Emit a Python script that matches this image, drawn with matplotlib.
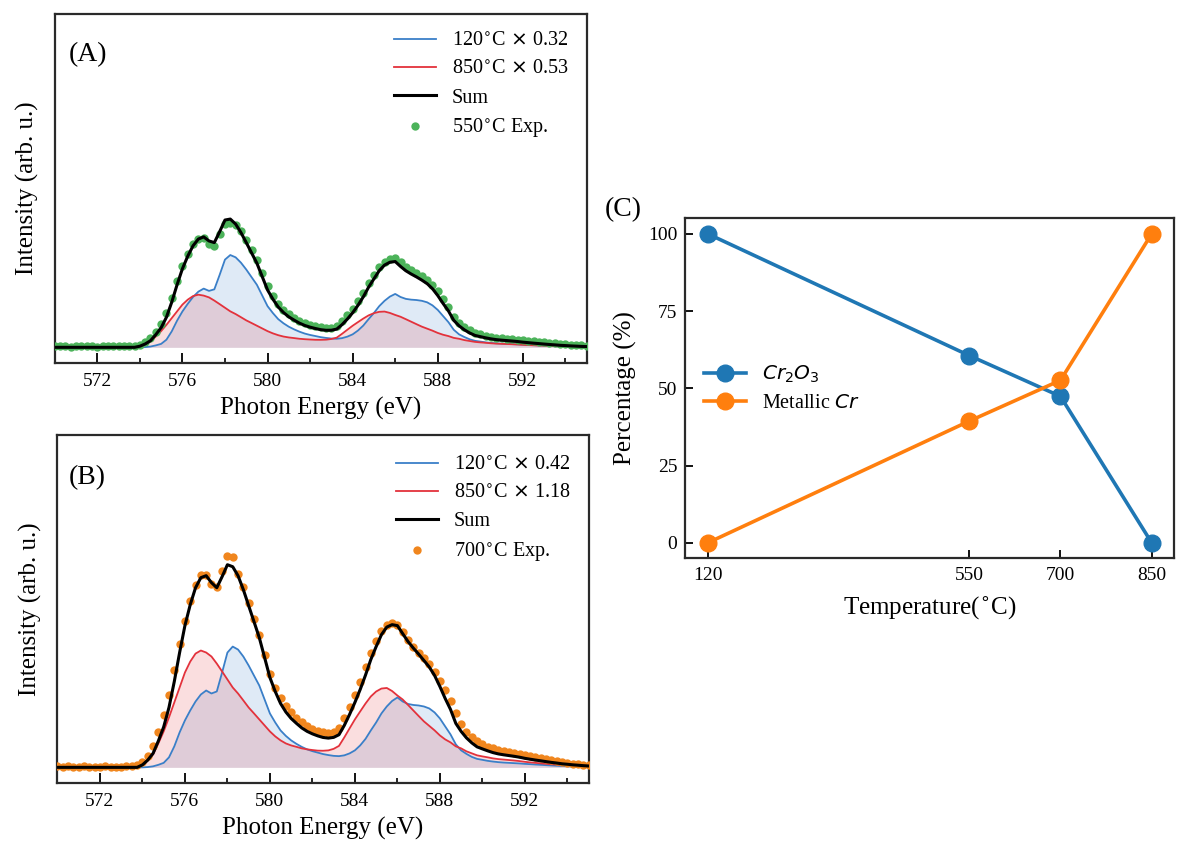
import numpy as np
import matplotlib
matplotlib.use('Agg')
import matplotlib.pyplot as plt
from matplotlib.ticker import MultipleLocator

plt.rcParams['font.family'] = ['Liberation Serif', 'DejaVu Sans']
plt.rcParams['mathtext.fontset'] = 'dejavusans'

# photon energy grid (eV), 0.25 eV step
energy = np.arange(570, 595.001, 0.25)

# reference spectra (arb. u.), one row per eV
ref_120 = [
    0, 0, 0, 0,
    0, 0, 0, 0,
    0, 0, 0, 0,
    0, 0, 0, 0,
    0, 0.7, 2.4, 6.0,
    10.7, 23.8, 50.0, 83.3,
    111.9, 135.7, 157.1, 173.8,
    183.3, 176.2, 181.0, 226.2,
    273.8, 288.1, 281.0, 264.3,
    242.9, 219.0, 195.2, 161.9,
    128.6, 107.1, 88.1, 75.0,
    64.3, 56.0, 48.8, 42.9,
    38.6, 35.2, 31.7, 29.3,
    27.4, 26.7, 28.6, 33.3,
    40.5, 52.4, 67.9, 88.1,
    107.1, 128.6, 145.2, 158.3,
    166.7, 157.1, 151.2, 148.8,
    147.6, 145.2, 140.5, 131.0,
    116.7, 97.6, 78.6, 54.8,
    40.5, 32.1, 25.0, 20.2,
    17.9, 15.5, 13.8, 12.4,
    11.4, 10.7, 10.0, 9.3,
    8.3, 7.6, 6.7, 6.0,
    5.2, 4.5, 3.8, 3.1,
    2.6, 2.1, 1.7, 1.2,
    1.0,
]

ref_850 = [
    0, 0, 0, 0,
    0, 0, 0, 0,
    0, 0, 0, 0,
    0, 0, 0, 0,
    2.1, 5.9, 11.0, 20.3,
    30.5, 42.4, 55.1, 67.8,
    80.5, 89.8, 96.6, 99.2,
    97.5, 94.1, 88.1, 81.4,
    74.6, 67.8, 62.7, 56.8,
    50.8, 45.8, 40.7, 35.6,
    30.5, 26.3, 22.9, 20.3,
    18.6, 17.4, 16.1, 15.3,
    14.7, 14.2, 14.1, 14.4,
    15.7, 18.2, 25.4, 33.1,
    40.7, 47.5, 54.2, 60.2,
    64.4, 66.9, 67.4, 64.8,
    61.0, 57.6, 53.0, 48.3,
    43.6, 39.0, 35.2, 31.4,
    27.1, 23.7, 21.2, 17.8,
    16.1, 13.6, 11.9, 10.2,
    9.3, 8.5, 7.6, 7.0,
    6.6, 6.2, 5.8, 5.3,
    4.7, 4.2, 3.8, 3.4,
    3.0, 2.6, 2.3, 1.9,
    1.7, 1.4, 1.2, 1.0,
    0.8,
]

# measured spectra
exp_550 = [
    1, 1.5, 1, 0.5,
    1, 1.5, 1, 1,
    0.5, 1, 1.5, 1,
    1, 1.5, 1, 1.5,
    2.5, 5, 9, 15.5,
    23, 34, 49, 66,
    81.5, 93.5, 103, 108.5,
    109, 103, 101, 113,
    123, 124.5, 122, 116,
    107, 97.5, 87.5, 74.5,
    61, 51.5, 43.5, 37.5,
    33, 29.5, 26.5, 24,
    22.5, 21, 20, 19.5,
    19.5, 21, 26, 32,
    38.5, 46, 54.5, 64,
    72, 80, 85.5, 88.5,
    89, 85, 80.5, 77,
    74, 71, 67.5, 62.5,
    56, 48, 40, 30.5,
    24.5, 20.5, 17, 14.5,
    13, 11.5, 10.5, 9.5,
    9, 8.5, 8, 7.5,
    7, 6.5, 6, 5.5,
    5, 4.5, 4, 3.5,
    3, 2.5, 2, 2,
    1.5,
]

exp_700 = [
    1, 0.5, 1, 0,
    0.5, 1, 0, 0.5,
    0, 1, 0.5, 0,
    0.5, 1, 1.5, 2,
    5, 11, 21, 35,
    52, 72, 98, 124,
    147, 167, 183, 193,
    193, 184, 181, 197,
    212, 211, 194, 181,
    165, 149, 133, 113,
    94, 80, 69, 61,
    55, 49.5, 45, 41,
    38.5, 36.5, 35, 34,
    35, 39, 49, 60,
    72, 86, 101, 115,
    127, 137, 143, 145,
    143, 136, 128, 121,
    115, 110, 104, 96,
    87, 77, 66, 54,
    43, 35, 30, 26,
    23, 20.5, 19, 17.5,
    16.5, 15.5, 14.5, 13.5,
    12.5, 11.5, 10.5, 9.5,
    8.5, 7.5, 6.5, 5.5,
    4.5, 3.5, 3, 2.5,
    2,
]

weights_550 = [0.32, 0.53]
weights_700 = [0.42, 1.18]

# panel C
temps = [120, 550, 700, 850]
cr2o3 = [100, 60.6, 47.4, 0]
metallic = [0, 39.4, 52.6, 100]

c_blue = '#3a7fc8'
c_red = '#e3323c'

fig = plt.figure(figsize=(11.77, 8.43), dpi=100)


def style_spines(ax):
    for s in ax.spines.values():
        s.set_linewidth(1.6)
        s.set_color('#2a2a2a')


def spectrum(ax, w, exp, exp_label, exp_color, tag, tag_xy, leg_y):
    blue = w[0] * np.array(ref_120)
    red = w[1] * np.array(ref_850)
    total = blue + red
    ax.fill_between(energy, 0, blue, color=c_blue, alpha=0.16, lw=0)
    ax.fill_between(energy, 0, red, color=c_red, alpha=0.16, lw=0)
    h1, = ax.plot(energy, blue, color=c_blue, lw=1.3,
                  label=r'120$^{\circ}$C $\times$ %.2f' % w[0])
    h2, = ax.plot(energy, red, color=c_red, lw=1.3,
                  label=r'850$^{\circ}$C $\times$ %.2f' % w[1])
    h4, = ax.plot(energy, exp, 'o', ms=6, color=exp_color, mew=0,
                  label=exp_label, zorder=3)
    h3, = ax.plot(energy, total, color='k', lw=2.2, label='Sum', zorder=4)
    ax.legend(handles=[h1, h2, h3, h4], loc='upper right', frameon=False,
              fontsize=14.5, handlelength=2.1, labelspacing=0.45,
              numpoints=1, bbox_to_anchor=(1.0, leg_y))
    ax.set_xlim(570, 595)
    ax.set_ylim(-16, 333)
    ax.set_yticks([])
    ax.xaxis.set_major_locator(MultipleLocator(4))
    ax.xaxis.set_minor_locator(MultipleLocator(2))
    ax.tick_params(axis='x', which='major', direction='in', length=7,
                   width=1.3, labelsize=14, pad=7)
    ax.tick_params(axis='x', which='minor', direction='in', length=3.5,
                   width=1.2)
    ax.set_xlabel('Photon Energy (eV)', fontsize=18, labelpad=5)
    ax.set_ylabel('Intensity (arb. u.)', fontsize=18, labelpad=11)
    ax.text(tag_xy[0], tag_xy[1], tag, transform=ax.transAxes,
            fontsize=20, ha='left', va='center')
    style_spines(ax)


axA = fig.add_axes([0.0465, 0.569, 0.452, 0.4144])
spectrum(axA, weights_550, exp_550, r'550$^{\circ}$C Exp.', '#4cb35a',
         '(A)', (0.027, 0.883), 1.0)

axB = fig.add_axes([0.0488, 0.0708, 0.4513, 0.4132])
spectrum(axB, weights_700, exp_700, r'700$^{\circ}$C Exp.', '#f0861e',
         '(B)', (0.022, 0.878), 0.993)

axC = fig.add_axes([0.5824, 0.3377, 0.415, 0.4033])
axC.plot(temps, cr2o3, '-o', color='#1f77b4', lw=2.6, ms=12,
         label=r'$Cr_2O_3$')
axC.plot(temps, metallic, '-o', color='#ff7f0e', lw=2.6, ms=12,
         label=r'Metallic $Cr$')
axC.set_xticks(temps)
axC.set_yticks([0, 25, 50, 75, 100])
axC.tick_params(direction='in', length=6, width=1.3, labelsize=14, pad=6)
axC.set_xlabel(r'Temperature($^{\circ}$C)', fontsize=18, labelpad=8)
axC.set_ylabel('Percentage (%)', fontsize=18, labelpad=8)
axC.legend(loc='center left', bbox_to_anchor=(0.0, 0.5), frameon=False,
           fontsize=14.5, handlelength=2.1, labelspacing=0.45)
style_spines(axC)
fig.text(0.514, 0.751, '(C)', fontsize=20, ha='left', va='center')

fig.savefig('out.png', dpi=100)
